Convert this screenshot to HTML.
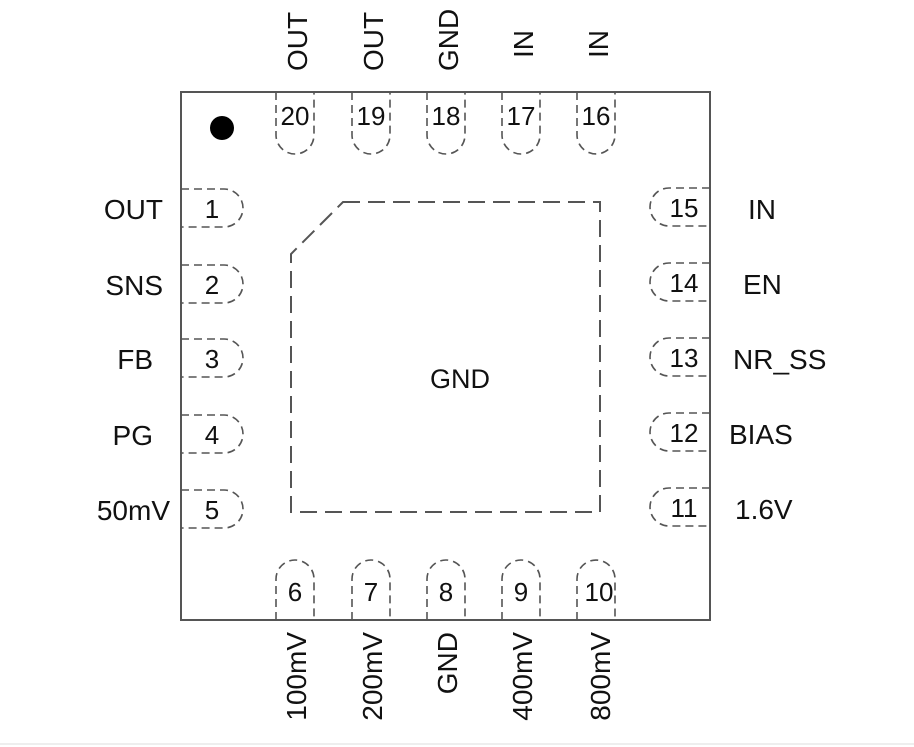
<!DOCTYPE html>
<html><head><style>body{margin:0;background:#fff}svg{display:block}text{font-family:"Liberation Sans",Arial,sans-serif;fill:#111}</style></head><body>
<svg width="914" height="747" viewBox="0 0 914 747" xmlns="http://www.w3.org/2000/svg">
<rect x="181" y="92" width="529" height="528" fill="none" stroke="#555" stroke-width="2"/>
<circle cx="222" cy="128" r="12" fill="#000"/>
<polygon points="343,202 600,202 600,512 291,512 291,254" fill="none" stroke="#555" stroke-width="2" stroke-dasharray="17,8"/>
<text x="460" y="388" font-size="27" text-anchor="middle">GND</text>
<g fill="none" stroke="#555" stroke-width="1.6" stroke-dasharray="8,5">
<path d="M276,92 V135 A19,19 0 0 0 314,135 V92"/>
<path d="M352,92 V135 A19,19 0 0 0 390,135 V92"/>
<path d="M427,92 V135 A19,19 0 0 0 465,135 V92"/>
<path d="M502,92 V135 A19,19 0 0 0 540,135 V92"/>
<path d="M577,92 V135 A19,19 0 0 0 615,135 V92"/>
<path d="M276,620 V579 A19,19 0 0 1 314,579 V620"/>
<path d="M352,620 V579 A19,19 0 0 1 390,579 V620"/>
<path d="M427,620 V579 A19,19 0 0 1 465,579 V620"/>
<path d="M502,620 V579 A19,19 0 0 1 540,579 V620"/>
<path d="M577,620 V579 A19,19 0 0 1 615,579 V620"/>
<path d="M181,189 H224 A19,19 0 0 1 224,227 H181"/>
<path d="M181,265 H224 A19,19 0 0 1 224,303 H181"/>
<path d="M181,339 H224 A19,19 0 0 1 224,377 H181"/>
<path d="M181,415 H224 A19,19 0 0 1 224,453 H181"/>
<path d="M181,490 H224 A19,19 0 0 1 224,528 H181"/>
<path d="M710,188 H669 A19,19 0 0 0 669,226 H710"/>
<path d="M710,263 H669 A19,19 0 0 0 669,301 H710"/>
<path d="M710,338 H669 A19,19 0 0 0 669,376 H710"/>
<path d="M710,413 H669 A19,19 0 0 0 669,451 H710"/>
<path d="M710,488 H669 A19,19 0 0 0 669,526 H710"/>
</g>
<g font-size="26" text-anchor="middle">
<text x="295" y="125">20</text><text x="371" y="125">19</text><text x="446" y="125">18</text><text x="521" y="125">17</text><text x="596" y="125">16</text>
<text x="295" y="601">6</text><text x="371" y="601">7</text><text x="446" y="601">8</text><text x="521" y="601">9</text><text x="599" y="601">10</text>
<text x="212" y="218">1</text><text x="212" y="294">2</text><text x="212" y="368">3</text><text x="212" y="444">4</text><text x="212" y="519">5</text>
<text x="684" y="217">15</text><text x="684" y="292">14</text><text x="684" y="367">13</text><text x="684" y="442">12</text><text x="684" y="517">11</text>
</g>
<g font-size="28" text-anchor="end">
<text x="163" y="219">OUT</text><text x="163" y="295">SNS</text><text x="153" y="369">FB</text><text x="153" y="445">PG</text><text x="170" y="520">50mV</text>
</g>
<g font-size="28" text-anchor="start">
<text x="748" y="219">IN</text><text x="743" y="294">EN</text><text x="733" y="369">NR_SS</text><text x="729" y="444">BIAS</text><text x="735" y="519">1.6V</text>
</g>
<g font-size="28" text-anchor="start">
<text transform="translate(307,71) rotate(-90)">OUT</text>
<text transform="translate(383,71) rotate(-90)">OUT</text>
<text transform="translate(458,71) rotate(-90)">GND</text>
<text transform="translate(533,58) rotate(-90)">IN</text>
<text transform="translate(608,58) rotate(-90)">IN</text>
</g>
<g font-size="28" text-anchor="end">
<text transform="translate(306,632) rotate(-90)">100mV</text>
<text transform="translate(382,632) rotate(-90)">200mV</text>
<text transform="translate(457,632) rotate(-90)">GND</text>
<text transform="translate(532,632) rotate(-90)">400mV</text>
<text transform="translate(610,632) rotate(-90)">800mV</text>
</g>
<line x1="0" y1="744" x2="914" y2="744" stroke="#ddd" stroke-width="1"/>
</svg>
</body></html>
